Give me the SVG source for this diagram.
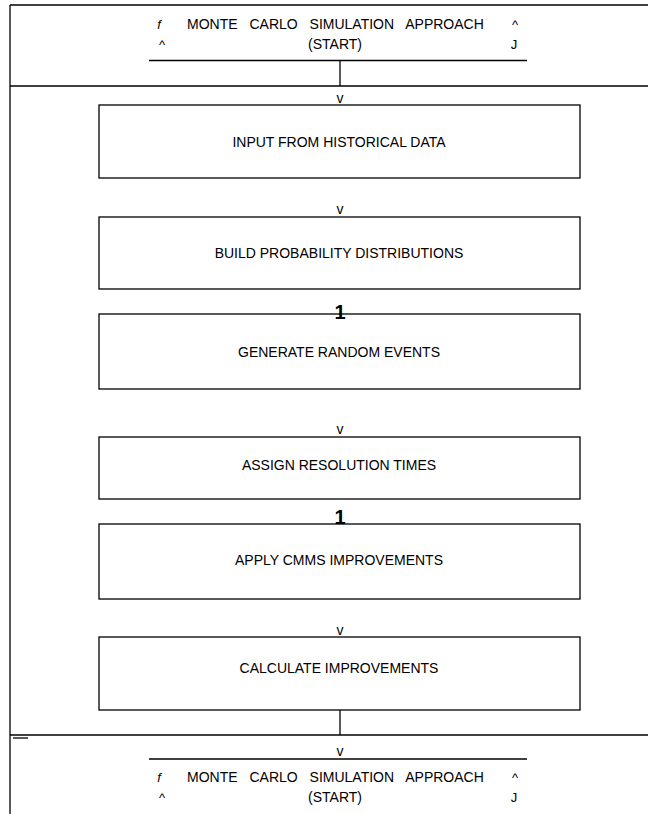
<svg xmlns="http://www.w3.org/2000/svg" width="648" height="814" viewBox="0 0 648 814">
  <style>
    text { font-family: "Liberation Sans", Arial, sans-serif; fill: #000; }
    .lbl { font-size: 14px; text-anchor: middle; }
    .ttl { font-size: 14px; word-spacing: 8px; }
    .sym { font-size: 13px; }
    .arr { font-size: 14px; text-anchor: middle; }
    .one { font-size: 20px; font-weight: bold; text-anchor: middle; }
    .box { fill: #fff; stroke: #000; stroke-width: 1.3; }
    .ln { stroke: #000; stroke-width: 1.3; fill: none; }
  </style>

  <!-- outer frame -->
  <g id="frame">
    <line class="ln" x1="10" y1="5" x2="648" y2="5"/>
    <line class="ln" x1="10" y1="5" x2="10" y2="814"/>
    <line class="ln" x1="10" y1="86" x2="648" y2="86"/>
    <line class="ln" x1="10" y1="735" x2="648" y2="735"/>
    <line class="ln" x1="13" y1="738" x2="28" y2="738"/>
  </g>

  <!-- start terminator -->
  <g id="start">
    <text class="sym" x="159" y="29" text-anchor="middle" font-style="italic">f</text>
    <text class="ttl" x="187" y="29">MONTE CARLO SIMULATION APPROACH</text>
    <text class="sym" x="515" y="29" text-anchor="middle">^</text>
    <text class="sym" x="162" y="49" text-anchor="middle">^</text>
    <text class="lbl" x="335" y="49">(START)</text>
    <text class="sym" x="514" y="49" text-anchor="middle">J</text>
    <line class="ln" x1="149" y1="60.5" x2="527" y2="60.5"/>
  </g>

  <g id="n1">
    <rect class="box" x="99" y="105" width="481" height="73"/>
    <text class="lbl" x="339" y="146.5">INPUT FROM HISTORICAL DATA</text>
  </g>
  <g id="n2">
    <rect class="box" x="99" y="217" width="481" height="72"/>
    <text class="lbl" x="339" y="258">BUILD PROBABILITY DISTRIBUTIONS</text>
  </g>
  <g id="n3">
    <rect class="box" x="99" y="314" width="481" height="75"/>
    <text class="lbl" x="339" y="357">GENERATE RANDOM EVENTS</text>
  </g>
  <g id="n4">
    <rect class="box" x="99" y="437" width="481" height="62"/>
    <text class="lbl" x="339" y="470">ASSIGN RESOLUTION TIMES</text>
  </g>
  <g id="n5">
    <rect class="box" x="99" y="524" width="481" height="75"/>
    <text class="lbl" x="339" y="565">APPLY CMMS IMPROVEMENTS</text>
  </g>
  <g id="n6">
    <rect class="box" x="99" y="637" width="481" height="73"/>
    <text class="lbl" x="339" y="673">CALCULATE IMPROVEMENTS</text>
  </g>

  <!-- end terminator -->
  <g id="end">
    <line class="ln" x1="149" y1="759" x2="527" y2="759"/>
    <text class="sym" x="159" y="782" text-anchor="middle" font-style="italic">f</text>
    <text class="ttl" x="187" y="782">MONTE CARLO SIMULATION APPROACH</text>
    <text class="sym" x="515" y="782" text-anchor="middle">^</text>
    <text class="sym" x="162" y="802" text-anchor="middle">^</text>
    <text class="lbl" x="335" y="802">(START)</text>
    <text class="sym" x="514" y="802" text-anchor="middle">J</text>
  </g>

  <!-- connectors and their arrow marks -->
  <g id="connectors">
    <line class="ln" x1="340" y1="60.5" x2="340" y2="86"/>
    <text class="arr" x="340" y="103">v</text>
    <text class="arr" x="340" y="214">v</text>
    <text class="one" x="340" y="319">1</text>
    <text class="arr" x="340" y="434">v</text>
    <text class="one" x="340" y="524">1</text>
    <text class="arr" x="340" y="635">v</text>
    <line class="ln" x1="340" y1="710" x2="340" y2="735"/>
    <text class="arr" x="340" y="756">v</text>
  </g>
</svg>
